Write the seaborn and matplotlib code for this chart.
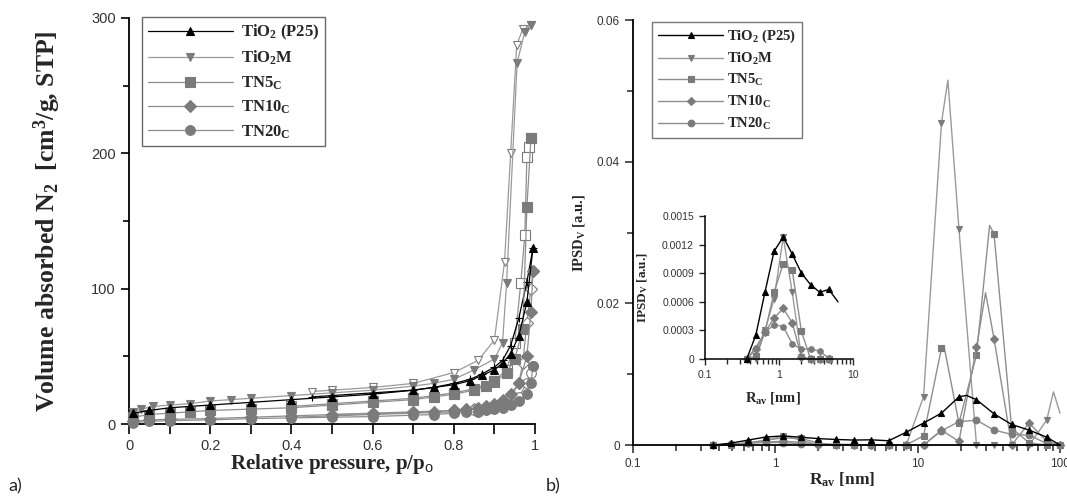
import numpy as np
import pandas as pd
import matplotlib
matplotlib.use('Agg')
import matplotlib.pyplot as plt
import seaborn as sns
from matplotlib.ticker import MultipleLocator, FixedLocator, FormatStrFormatter, NullFormatter, LogLocator

# ---------------- data: a) N2 isotherms ----------------
labels = ['TiO$_2$ (P25)', 'TiO$_2$M', 'TN5$_\\mathrm{C}$', 'TN10$_\\mathrm{C}$', 'TN20$_\\mathrm{C}$']

p25_ads_p = [0.01, 0.05, 0.1, 0.15, 0.2, 0.3, 0.4, 0.5, 0.6, 0.7, 0.75, 0.8, 0.84, 0.87, 0.9, 0.92, 0.94, 0.96, 0.98, 0.995]
p25_ads_v = [8, 10, 12, 13, 14, 16, 18, 20, 22, 25, 27, 29, 32, 36, 40, 45, 52, 65, 90, 130]
p25_des_p = [0.995, 0.98, 0.96, 0.94, 0.92, 0.9, 0.87, 0.84, 0.8, 0.75, 0.7, 0.6, 0.5, 0.45]
p25_des_v = [130, 105, 78, 58, 47, 42, 37, 33, 30, 27, 25, 23, 21, 20]

m_ads_p = [0.01, 0.03, 0.06, 0.1, 0.15, 0.2, 0.25, 0.3, 0.4, 0.5, 0.6, 0.7, 0.75, 0.8, 0.85, 0.9, 0.92, 0.93, 0.956, 0.975, 0.99]
m_ads_v = [9, 11, 13, 14, 15, 17, 18, 19, 21, 23, 25, 28, 30, 33, 40, 48, 60, 104, 267, 290, 295]
m_des_p = [0.99, 0.97, 0.955, 0.94, 0.925, 0.9, 0.86, 0.8, 0.7, 0.6, 0.5, 0.45]
m_des_v = [295, 292, 280, 200, 120, 62, 47, 38, 30, 27, 25, 24]

tn5_ads_p = [0.01, 0.05, 0.1, 0.15, 0.2, 0.3, 0.4, 0.5, 0.6, 0.7, 0.75, 0.8, 0.85, 0.88, 0.9, 0.93, 0.95, 0.97, 0.98, 0.99]
tn5_ads_v = [5, 7, 8, 9, 10, 11, 12, 14, 16, 18, 20, 22, 25, 28, 31, 38, 48, 70, 160, 211]
tn5_des_p = [0.99, 0.985, 0.98, 0.975, 0.965, 0.95, 0.93, 0.9, 0.85, 0.8, 0.7, 0.6, 0.5, 0.4]
tn5_des_v = [211, 205, 197, 140, 104, 60, 40, 32, 26, 23, 19, 17, 15, 13]

tn10_ads_p = [0.01, 0.05, 0.1, 0.2, 0.3, 0.4, 0.5, 0.6, 0.7, 0.75, 0.8, 0.83, 0.86, 0.88, 0.9, 0.92, 0.94, 0.96, 0.98, 0.99, 0.995]
tn10_ads_v = [2, 3, 3.5, 4, 5, 6, 7, 7.5, 8.5, 9, 10, 11, 12, 13, 15, 18, 22, 30, 50, 83, 113]
tn10_des_p = [0.995, 0.99, 0.98, 0.97, 0.96, 0.94, 0.9, 0.85, 0.8, 0.7, 0.6, 0.5]
tn10_des_v = [113, 100, 75, 45, 30, 20, 14, 11, 10, 9, 8, 7]

tn20_ads_p = [0.01, 0.05, 0.1, 0.2, 0.3, 0.4, 0.5, 0.6, 0.7, 0.75, 0.8, 0.83, 0.86, 0.88, 0.9, 0.92, 0.94, 0.96, 0.98, 0.99, 0.995]
tn20_ads_v = [1, 2, 2.5, 3, 4, 4.5, 5, 5.5, 6.5, 7, 8, 8.5, 9, 10, 11, 12, 14, 17, 22, 30, 43]
tn20_des_p = [0.995, 0.99, 0.98, 0.96, 0.94, 0.9, 0.85, 0.8, 0.7, 0.6, 0.5, 0.4]
tn20_des_v = [43, 38, 30, 20, 15, 12, 10, 9, 8, 7, 6, 5]

# ---------------- data: b) pore size distributions ----------------
r_av = [0.366, 0.486, 0.646, 0.858, 1.14, 1.51, 2.01, 2.67, 3.55, 4.71, 6.26,
        8.3, 11.0, 14.7, 19.5, 25.9, 34.4, 45.7, 60.7, 80.6, 100]
psd_p25 = [0, 0.00025, 0.0007, 0.00113, 0.00128, 0.0011, 0.0009, 0.00078, 0.0007, 0.00073, 0.0006,
           0.0018, 0.0031, 0.0045, 0.0068, 0.0064, 0.0044, 0.0029, 0.0021, 0.0011, 0.0]
psd_m = [0, 0, 0.0003, 0.00063, 0.00128, 0.0007, 0.00002, 0, 0, 0, 0,
         0, 0.0068, 0.0455, 0.0305, 0, 0, 0, 0, 0.0035, 0.0045]
psd_tn5 = [0, 0.00003, 0.00028, 0.0007, 0.001, 0.00093, 0.00029, 0, 0, 0, 0,
           0, 0.0013, 0.0137, 0.0031, 0.0127, 0.0298, 0.0024, 0.0003, 0, 0]
psd_tn10 = [0, 0.0001, 0.00028, 0.00043, 0.00053, 0.00038, 0.00002, 0, 0, 0, 0,
            0, 0, 0.0021, 0.0005, 0.0138, 0.015, 0, 0.0031, 0.0005, 0]
psd_tn20 = [0, 0.00012, 0.00028, 0.00036, 0.00034, 0.00016, 0.0001, 0.00011, 0.00008, 0.00001, 0,
            0, 0, 0.002, 0.0033, 0.0035, 0.0021, 0.0015, 0.0014, 0.0002, 0]
# curve maxima between data points (no marker drawn there)
peak_m_r, peak_m_v = [16.3, 90], [0.0515, 0.0075]
peak_tn5_r, peak_tn5_v = [15.3, 32], [0.014, 0.031]
peak_tn10_r, peak_tn10_v = [30], [0.0215]
peak_p25_r, peak_p25_v = [22], [0.0070]

# ---------------- style ----------------
sns.set_style('ticks')
plt.rcParams['font.family'] = ['Liberation Sans', 'DejaVu Sans']
plt.rcParams['mathtext.fontset'] = 'custom'
plt.rcParams['mathtext.rm'] = 'Liberation Serif:bold'
plt.rcParams['mathtext.bf'] = 'Liberation Serif:bold'
plt.rcParams['mathtext.it'] = 'Liberation Serif:bold:italic'
plt.rcParams['mathtext.sf'] = 'Liberation Sans'
SERIF = {'family': 'Liberation Serif', 'weight': 'bold'}

GRAY = '#7b7b7b'
LGRAY = '#8e8e8e'
colors = ['black', GRAY, GRAY, GRAY, GRAY]
lcolors = ['black', '#9a9a9a', LGRAY, LGRAY, LGRAY]
markers = ['^', 'v', 's', 'D', 'o']

W, H = 1067, 496
fig = plt.figure(figsize=(W / 100, H / 100), dpi=100)
ax1 = fig.add_axes([129 / W, 1 - 424 / H, 406 / W, 406 / H])
ax2 = fig.add_axes([633 / W, 1 - 445 / H, 427 / W, 425 / H])
ax3 = fig.add_axes([705 / W, 1 - 359 / H, 148 / W, 143 / H])


def draw(ax, x, y, marker, mc, lc, ms, mfc=None, lw=0.9, markevery=None, z=2):
    sns.lineplot(x=x, y=y, ax=ax, estimator=None, sort=False, color=lc, linewidth=lw,
                 marker=marker, markersize=ms, markerfacecolor=mfc if mfc else mc,
                 markeredgecolor=mc, markeredgewidth=0.8, markevery=markevery,
                 clip_on=False, zorder=z, legend=False)
    return ax.lines[-1]


# ---- panel a ----
ads = [(p25_ads_p, p25_ads_v), (m_ads_p, m_ads_v), (tn5_ads_p, tn5_ads_v),
       (tn10_ads_p, tn10_ads_v), (tn20_ads_p, tn20_ads_v)]
des = [(p25_des_p, p25_des_v), (m_des_p, m_des_v), (tn5_des_p, tn5_des_v),
       (tn10_des_p, tn10_des_v), (tn20_des_p, tn20_des_v)]
sizes_a = [6, 6, 6.5, 6, 7]
handles_a = []
for i in range(5):
    dm = '+' if i == 0 else markers[i]
    draw(ax1, des[i][0], des[i][1], dm, colors[i], lcolors[i], sizes_a[i], mfc='white', z=2 + (i == 0))
    handles_a.append(draw(ax1, ads[i][0], ads[i][1], markers[i], colors[i], lcolors[i], sizes_a[i], z=3 + (i == 0)))

ax1.set_xlim(0, 1)
ax1.set_ylim(0, 300)
ax1.xaxis.set_major_locator(MultipleLocator(0.2))
ax1.xaxis.set_minor_locator(MultipleLocator(0.1))
ax1.xaxis.set_major_formatter(FormatStrFormatter('%g'))
ax1.yaxis.set_major_locator(MultipleLocator(100))
ax1.yaxis.set_minor_locator(MultipleLocator(50))
ax1.tick_params(axis='both', which='both', direction='out', width=1.2, colors='black',
                labelcolor='#333333', labelsize=10.5)
ax1.tick_params(axis='x', which='both', length=7)
ax1.tick_params(axis='y', which='major', length=6)
ax1.tick_params(axis='y', which='minor', length=4)
ax1.set_ylabel('Volume absorbed N$_2$  [cm$^3$/g, STP]', fontdict=SERIF, fontsize=18.5)
ax1.yaxis.set_label_coords(-0.163, 0.5)
ax1.set_xlabel('Relative pressure, p/p$_\\mathsf{o}$', fontdict=SERIF, fontsize=15)
ax1.xaxis.set_label_coords(0.5, -0.07)
leg1 = ax1.legend(handles_a, labels, loc='upper left', bbox_to_anchor=(142 / W, 1 - 17 / H),
                  bbox_transform=fig.transFigure, borderaxespad=0, frameon=True, fancybox=False,
                  handlelength=5.1, handletextpad=0.5, labelspacing=0.42, borderpad=0.35,
                  prop={'family': 'Liberation Serif', 'weight': 'bold', 'size': 12})
leg1.get_frame().set_edgecolor('#444444')
leg1.get_frame().set_linewidth(1.0)

# ---- panel b ----
series_b = [psd_p25, psd_m, psd_tn5, psd_tn10, psd_tn20]
peaks_b = [(peak_p25_r, peak_p25_v), (peak_m_r, peak_m_v), (peak_tn5_r, peak_tn5_v),
           (peak_tn10_r, peak_tn10_v), ([], [])]
handles_b = []
for i in range(5):
    df = pd.DataFrame({'r': r_av + peaks_b[i][0], 'v': series_b[i] + peaks_b[i][1],
                       'mark': [True] * len(r_av) + [False] * len(peaks_b[i][0])})
    df = df.sort_values('r').reset_index(drop=True)
    mk = list(df['mark'])
    if i in (0, 1):
        mk[-1] = False
    h = draw(ax2, df['r'].values, df['v'].values, markers[i], colors[i], lcolors[i],
             4.8 if i != 3 else 4.3, markevery=mk, lw=1.0, z=2 + (i == 0))
    handles_b.append(h)

    # inset: small pores
    sub = pd.DataFrame({'r': r_av, 'v': series_b[i]})
    sub = sub[sub['r'] < (6.5 if i == 0 else 5)]
    mk_in = [True] * len(sub)
    if i == 0:
        mk_in[-1] = False
    draw(ax3, sub['r'].values, sub['v'].values, markers[i], colors[i], lcolors[i],
         4.0 if i != 3 else 3.6, markevery=mk_in, lw=1.0, z=2 + (i == 0))

ax2.set_xscale('log')
ax2.set_xlim(0.1, 100)
ax2.set_ylim(0, 0.06)
ax2.xaxis.set_major_formatter(FormatStrFormatter('%g'))
ax2.xaxis.set_minor_locator(LogLocator(base=10, subs=np.arange(2, 10) * 1.0))
ax2.xaxis.set_minor_formatter(NullFormatter())
ax2.yaxis.set_major_locator(MultipleLocator(0.02))
ax2.yaxis.set_minor_locator(MultipleLocator(0.01))
ax2.yaxis.set_major_formatter(FormatStrFormatter('%g'))
ax2.tick_params(axis='both', which='both', direction='out', width=1.1, labelcolor='#333333', labelsize=8.5)
ax2.tick_params(axis='both', which='major', length=6)
ax2.tick_params(axis='both', which='minor', length=4)
ax2.set_ylabel('IPSD$_\\mathrm{V}$ [a.u.]', fontdict=SERIF, fontsize=10.5)
ax2.yaxis.set_label_coords(-0.108, 0.5)
ax2.set_xlabel('R$_\\mathbf{av}$ [nm]', fontdict=SERIF, fontsize=12.5)
ax2.xaxis.set_label_coords(0.49, -0.06)
leg2 = ax2.legend(handles_b, labels, loc='upper left', bbox_to_anchor=(652 / W, 1 - 22 / H),
                  bbox_transform=fig.transFigure, borderaxespad=0, frameon=True, fancybox=False,
                  handlelength=4.5, handletextpad=0.25, labelspacing=0.38, borderpad=0.4,
                  prop={'family': 'Liberation Serif', 'weight': 'bold', 'size': 10.5})
leg2.get_frame().set_edgecolor('#555555')
leg2.get_frame().set_linewidth(1.0)

# inset axes
ax3.set_xscale('log')
ax3.set_xlim(0.1, 10)
ax3.set_ylim(0, 0.0015)
ax3.patch.set_alpha(0)
ax3.xaxis.set_major_formatter(FormatStrFormatter('%g'))
ax3.xaxis.set_minor_locator(LogLocator(base=10, subs=np.arange(2, 10) * 1.0))
ax3.xaxis.set_minor_formatter(NullFormatter())
ax3.yaxis.set_major_locator(FixedLocator([0, 0.0003, 0.0006, 0.0009, 0.0012, 0.0015]))
ax3.yaxis.set_major_formatter(FormatStrFormatter('%g'))
ax3.tick_params(axis='both', which='both', direction='out', width=1.0, labelcolor='#333333', labelsize=7.5)
ax3.tick_params(axis='both', which='major', length=4.5)
ax3.tick_params(axis='both', which='minor', length=3.5)
ax3.set_ylabel('IPSD$_\\mathrm{V}$ [a.u.]', fontdict=SERIF, fontsize=9.5)
ax3.yaxis.set_label_coords(-0.37, 0.5)
ax3.set_xlabel('R$_\\mathbf{av}$ [nm]', fontdict=SERIF, fontsize=10.5)
ax3.xaxis.set_label_coords(0.46, -0.22)

for ax in (ax1, ax2, ax3):
    sns.despine(ax=ax)
    for s in ('left', 'bottom'):
        ax.spines[s].set_color('black')
        ax.spines[s].set_linewidth(1.3 if ax is not ax3 else 1.1)

fig.text(8 / W, 1 - 486 / H, 'a)', fontsize=13, family=['Lato', 'DejaVu Sans'], va='center', ha='left')
fig.text(546 / W, 1 - 486 / H, 'b)', fontsize=13, family=['Lato', 'DejaVu Sans'], va='center', ha='left')

fig.savefig('out.png', dpi=100)
